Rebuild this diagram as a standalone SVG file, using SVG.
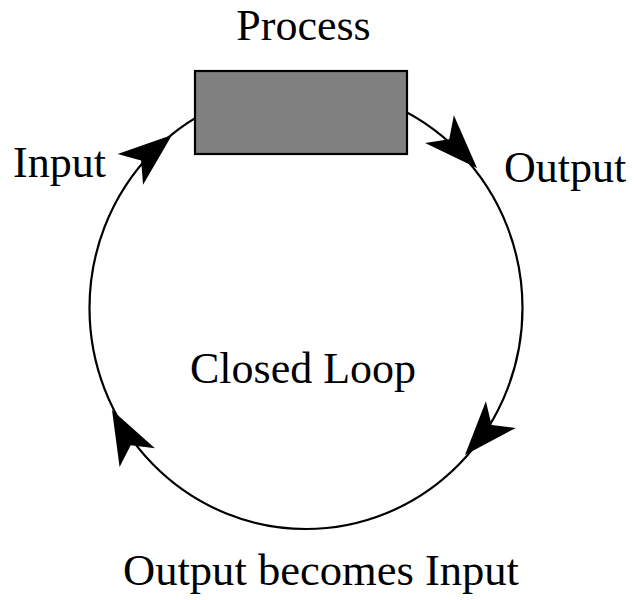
<svg xmlns="http://www.w3.org/2000/svg" width="634" height="600" viewBox="0 0 634 600">
<style>
.lbl{font-family:"Liberation Serif","Times New Roman",serif;font-size:44px;fill:#000}
.loop{fill:none;stroke:#000;stroke-width:2.2}
.ah{fill:#000;stroke:none}
</style>
<defs>
<path id="arrowhead" class="ah" d="M0,0 L-54,-20 L-40,0 L-54,20 Z"/>
</defs>
<rect width="634" height="600" fill="#fff"/>
<g id="connectors">
<ellipse class="loop" cx="306" cy="308" rx="216.5" ry="221"/>
<use href="#arrowhead" transform="translate(172,135) rotate(-39.5)"/>
<use href="#arrowhead" transform="translate(477,168) rotate(46)"/>
<use href="#arrowhead" transform="translate(465,455) rotate(131.6)"/>
<use href="#arrowhead" transform="translate(112,410) rotate(-117.9)"/>
</g>
<g id="process">
<rect x="195" y="71" width="212" height="83" fill="#808080" stroke="#000" stroke-width="2.2"/>
<text class="lbl" x="303.5" y="40" text-anchor="middle">Process</text>
</g>
<g id="input-label"><text class="lbl" x="13" y="177">Input</text></g>
<g id="output-label"><text class="lbl" x="504" y="182">Output</text></g>
<g id="closed-loop-label"><text class="lbl" x="303" y="383" text-anchor="middle">Closed Loop</text></g>
<g id="feedback-label"><text class="lbl" x="321" y="585" text-anchor="middle" textLength="396" lengthAdjust="spacingAndGlyphs">Output becomes Input</text></g>
</svg>
